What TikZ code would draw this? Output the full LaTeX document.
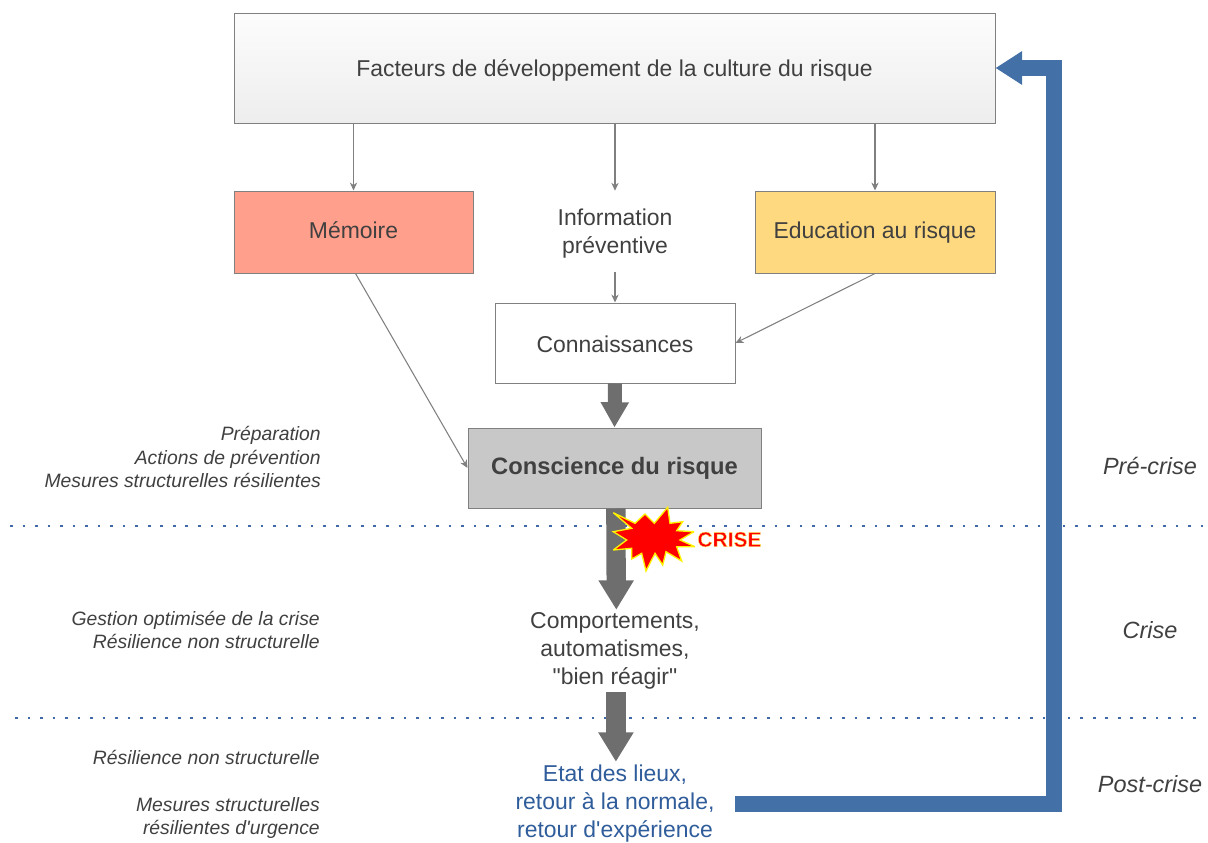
\documentclass[tikz,border=0pt]{standalone}
\usepackage{fontspec}
\setmainfont[Ligatures=TeXOff]{Liberation Sans}
\usetikzlibrary{arrows.meta,shadows,calc}
\definecolor{txt}{HTML}{404040}
\definecolor{edge}{HTML}{808080}
\definecolor{fat}{HTML}{6E6E6E}
\definecolor{bluefat}{HTML}{4470A8}
\definecolor{bluetxt}{HTML}{2F5C9A}
\definecolor{dots}{HTML}{3F6AA5}
\definecolor{memo}{HTML}{FF9F8C}
\definecolor{educ}{HTML}{FFD97F}
\definecolor{consc}{HTML}{C8C8C8}
\tikzset{
  px/.style={x=0.75pt,y=-0.75pt},
  boxbase/.style={draw=edge,line width=0.75pt,text=txt,font=\fontsize{17.2pt}{21pt}\selectfont,align=center,inner sep=0pt,
    text height=13pt,text depth=1pt,
    drop shadow={shadow xshift=1pt,shadow yshift=-1pt,fill=black!22,opacity=.6}},
  plain/.style={text=txt,font=\fontsize{17.2pt}{21pt}\selectfont,align=center,inner sep=0pt,minimum width=180pt},
  thin arrow/.style={draw=edge,line width=0.8pt,-{Stealth[length=6pt,width=5.5pt]}},
  fat arrow/.style={draw=fat,line width=10.5pt,-{Triangle[length=19pt,width=20pt]}},
  mid arrow/.style={draw=fat,line width=14.5pt,-{Triangle[length=22pt,width=25pt]}},
  back arrow/.style={draw=bluefat,line width=12.5pt,miter limit=10,-{Triangle[length=20pt,width=24pt]}},
  phase/.style={text=txt,font=\fontsize{17.6pt}{20pt}\selectfont\itshape,inner sep=0pt},
  note/.style={text=txt,font=\fontsize{14.5pt}{17.7pt}\selectfont\itshape,align=right,inner sep=0pt,anchor=east},
  sep/.style={draw=dots,line width=1.5pt,dash pattern=on 2pt off 7.4pt},
}
\begin{document}
\begin{tikzpicture}[px]
\useasboundingbox (0,0) rectangle (1208,843);
\coordinate (sepAl) at (10,525.5); \coordinate (sepAr) at (1208,525.5);
\coordinate (sepBl) at (15,717.5); \coordinate (sepBr) at (1200,717.5);
\draw[sep] (sepAl) -- (sepAr);
\draw[sep] (sepBl) -- (sepBr);

\node[boxbase,minimum width=570.75pt,minimum height=82.5pt,top color=black!1,bottom color=black!7] (top) at (614.5,68) {Facteurs de développement de la culture du risque};
\node[boxbase,text height=11.8pt,text depth=2pt,minimum width=179.25pt,minimum height=61.5pt,fill=memo] (mem) at (353.5,232) {Mémoire};
\node[boxbase,text height=12pt,text depth=2pt,minimum width=180pt,minimum height=61.5pt,fill=educ] (edu) at (875,232) {Education au risque};
\node[plain,minimum height=63.75pt] (info) at (615,233.5) {Information\\préventive};
\node[boxbase,text height=14.5pt,text depth=1pt,minimum width=180pt,minimum height=60pt,fill=white] (conn) at (615,343) {Connaissances};
\node[boxbase,text height=12pt,text depth=2.5pt,minimum width=219.75pt,minimum height=60pt,fill=consc,font=\fontsize{17.8pt}{21pt}\selectfont\bfseries] (consc) at (614.5,468) {Conscience du risque};
\node[plain,minimum height=61.5pt] (comp) at (615,651) {Comportements,\\automatismes,\\"bien réagir"};
\node[plain,minimum height=63pt,text=bluetxt] (etat) at (615,804) {Etat des lieux,\\retour à la normale,\\retour d'expérience};

\draw[thin arrow] (top.south -| mem.north) -- (mem.north);
\draw[thin arrow] (top.south -| info.north) -- (info.north);
\draw[thin arrow] (top.south -| edu.north) -- (edu.north);
\draw[thin arrow,shorten <=-3pt] (info.south) -- (conn.north);
\draw[thin arrow] (edu.south) -- (conn.east);
\draw[thin arrow] (mem.south) ++(2,0) -- (consc.west);
\draw[fat arrow] (conn.south) -- (consc.north);
\draw[mid arrow] ([xshift=1pt]consc.south) -- ([xshift=1pt]comp.north);
\draw[mid arrow] ([xshift=0.7pt]comp.south) -- ([xshift=0.7pt]etat.north);
\coordinate (bendlow) at (1054,804);
\coordinate (bendhigh) at (1054,68);
\draw[back arrow] (etat.east) -- (bendlow) -- (bendhigh) -- (top.east);

\draw[draw=yellow,line width=1pt,fill=red,miter limit=3]
  (613.3,512.7) -- (635,523.3) -- (645,514) -- (654.3,523.3) -- (667.7,507.3) -- (670,523.3)
  -- (682.7,521.7) -- (676.7,530.7) -- (694,531.7) -- (680,540) -- (695,546.7) -- (676.7,546.7)
  -- (681.7,561) -- (666,551.7) -- (662.7,565) -- (655,553.3) -- (646,571) -- (641.7,553.3)
  -- (631.7,559) -- (631.7,548.3) -- (613.3,550) -- (626.7,540) -- (613.3,531.7) -- (631.7,528.3) -- cycle;
\node[text=red,font=\fontsize{15.7pt}{15.7pt}\selectfont\bfseries,inner sep=0pt] (crise) at (729.5,539.5) {\special{pdf:code 2 Tr 1 0.95 0.4 RG 0.3 w}CRISE\special{pdf:code 0 Tr}};

\node[note] (n1) at (321,457) {Préparation\\Actions de prévention\\Mesures structurelles résilientes};
\node[note] (n2) at (320,630) {Gestion optimisée de la crise\\Résilience non structurelle};
\node[note] (n3) at (320,757) {Résilience non structurelle};
\node[note] (n4) at (320,818) {Mesures structurelles\\résilientes d'urgence};
\node[phase] (p1) at (1150,466) {Pré-crise};
\node[phase] (p2) at (1150,630) {Crise};
\node[phase] (p3) at (1150,784) {Post-crise};
\end{tikzpicture}
\end{document}
